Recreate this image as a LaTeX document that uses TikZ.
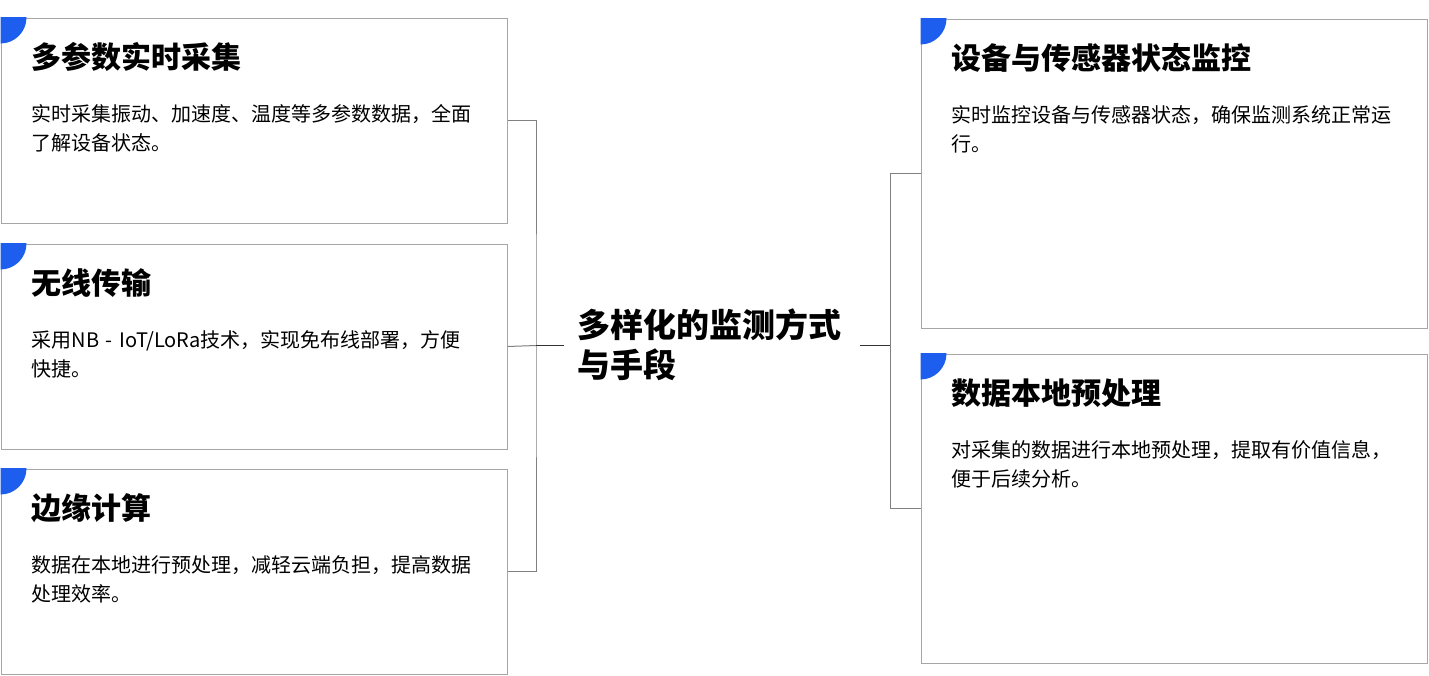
\documentclass[tikz,border=0pt]{standalone}
\usepackage{fontspec}
\setmainfont{Noto Sans CJK SC}
\usetikzlibrary{calc}
\definecolor{cardblue}{RGB}{29,94,238}
\definecolor{cardline}{RGB}{166,166,166}
\definecolor{linkline}{RGB}{128,128,128}
\tikzset{
  cardbox/.style={draw=cardline, line width=1pt, minimum width=506pt, inner sep=0pt},
  cardtitle/.style={inner sep=0pt, font=\fontsize{30}{34}\selectfont\bfseries},
  cardtext/.style={inner sep=0pt, text width=460pt, align=left, font=\fontsize{20}{29}\selectfont},
  link/.style={draw=linkline, line width=1pt},
  stub/.style={draw=black!80, line width=1pt}
}
% name (x,y) height title body
\def\card#1(#2,#3)#4#5#6{%
  \node[cardbox, minimum height=#4, anchor=north west] (#1) at (#2,#3) {};
  \begin{scope}
    \clip (#1.north west) rectangle (#1.south east);
    \fill[cardblue] (#1.north west) circle[radius=26pt];
  \end{scope}
  \node[cardtitle, anchor=base west] (#1-t) at ([shift={(31pt,-51pt)}]#1.north west) {#5};
  \node[cardtext, anchor=base west] (#1-d) at ([shift={(31pt,-104pt)}]#1.north west) {#6};
}

\begin{document}
\begin{tikzpicture}[x=1pt, y=-1pt]
			\useasboundingbox (0,0) rectangle (1429,675);
			
			%%%%% LEFT %%%%%
			\card{lcollect}(0.5,17.5){205pt}{多参数实时采集}{实时采集振动、加速度、温度等多参数数据，全面\\了解设备状态。}
			\card{lwireless}(0.5,243.5){205pt}{无线传输}{采用NB - IoT/LoRa技术，实现免布线部署，方便\\快捷。}
			\card{ledge}(0.5,468.5){205pt}{边缘计算}{数据在本地进行预处理，减轻云端负担，提高数据\\处理效率。}
			
			%%%%% RIGHT %%%%%
			\card{rstatus}(920.5,18.5){309pt}{设备与传感器状态监控}{实时监控设备与传感器状态，确保监测系统正常运\\行。}
			\card{rlocal}(920.5,353.5){309pt}{数据本地预处理}{对采集的数据进行本地预处理，提取有价值信息，\\便于后续分析。}
			
			%%%%% CENTRE %%%%%
			\node[inner xsep=13pt, inner ysep=0pt, text width=270pt, align=left, anchor=base west,
			      font=\fontsize{33}{40}\selectfont\bfseries] (hub) at (564,337) {多样化的监测方式\\与手段};
			
			\coordinate (ljoin) at (536,345.5);
			\coordinate (rjoin) at (890,345.5);
			
			\draw[link] (lcollect.east) -| (ljoin) |- (ledge.east);
			\draw[link] (lwireless.east) -- (ljoin);
			\draw[stub] (ljoin) -- (ljoin -| hub.west);
			
			\draw[link] (rstatus.west) -| (rjoin) |- (rlocal.west);
			\draw[stub] (rjoin -| hub.east) -- (rjoin);
			
		\end{tikzpicture}
\end{document}
